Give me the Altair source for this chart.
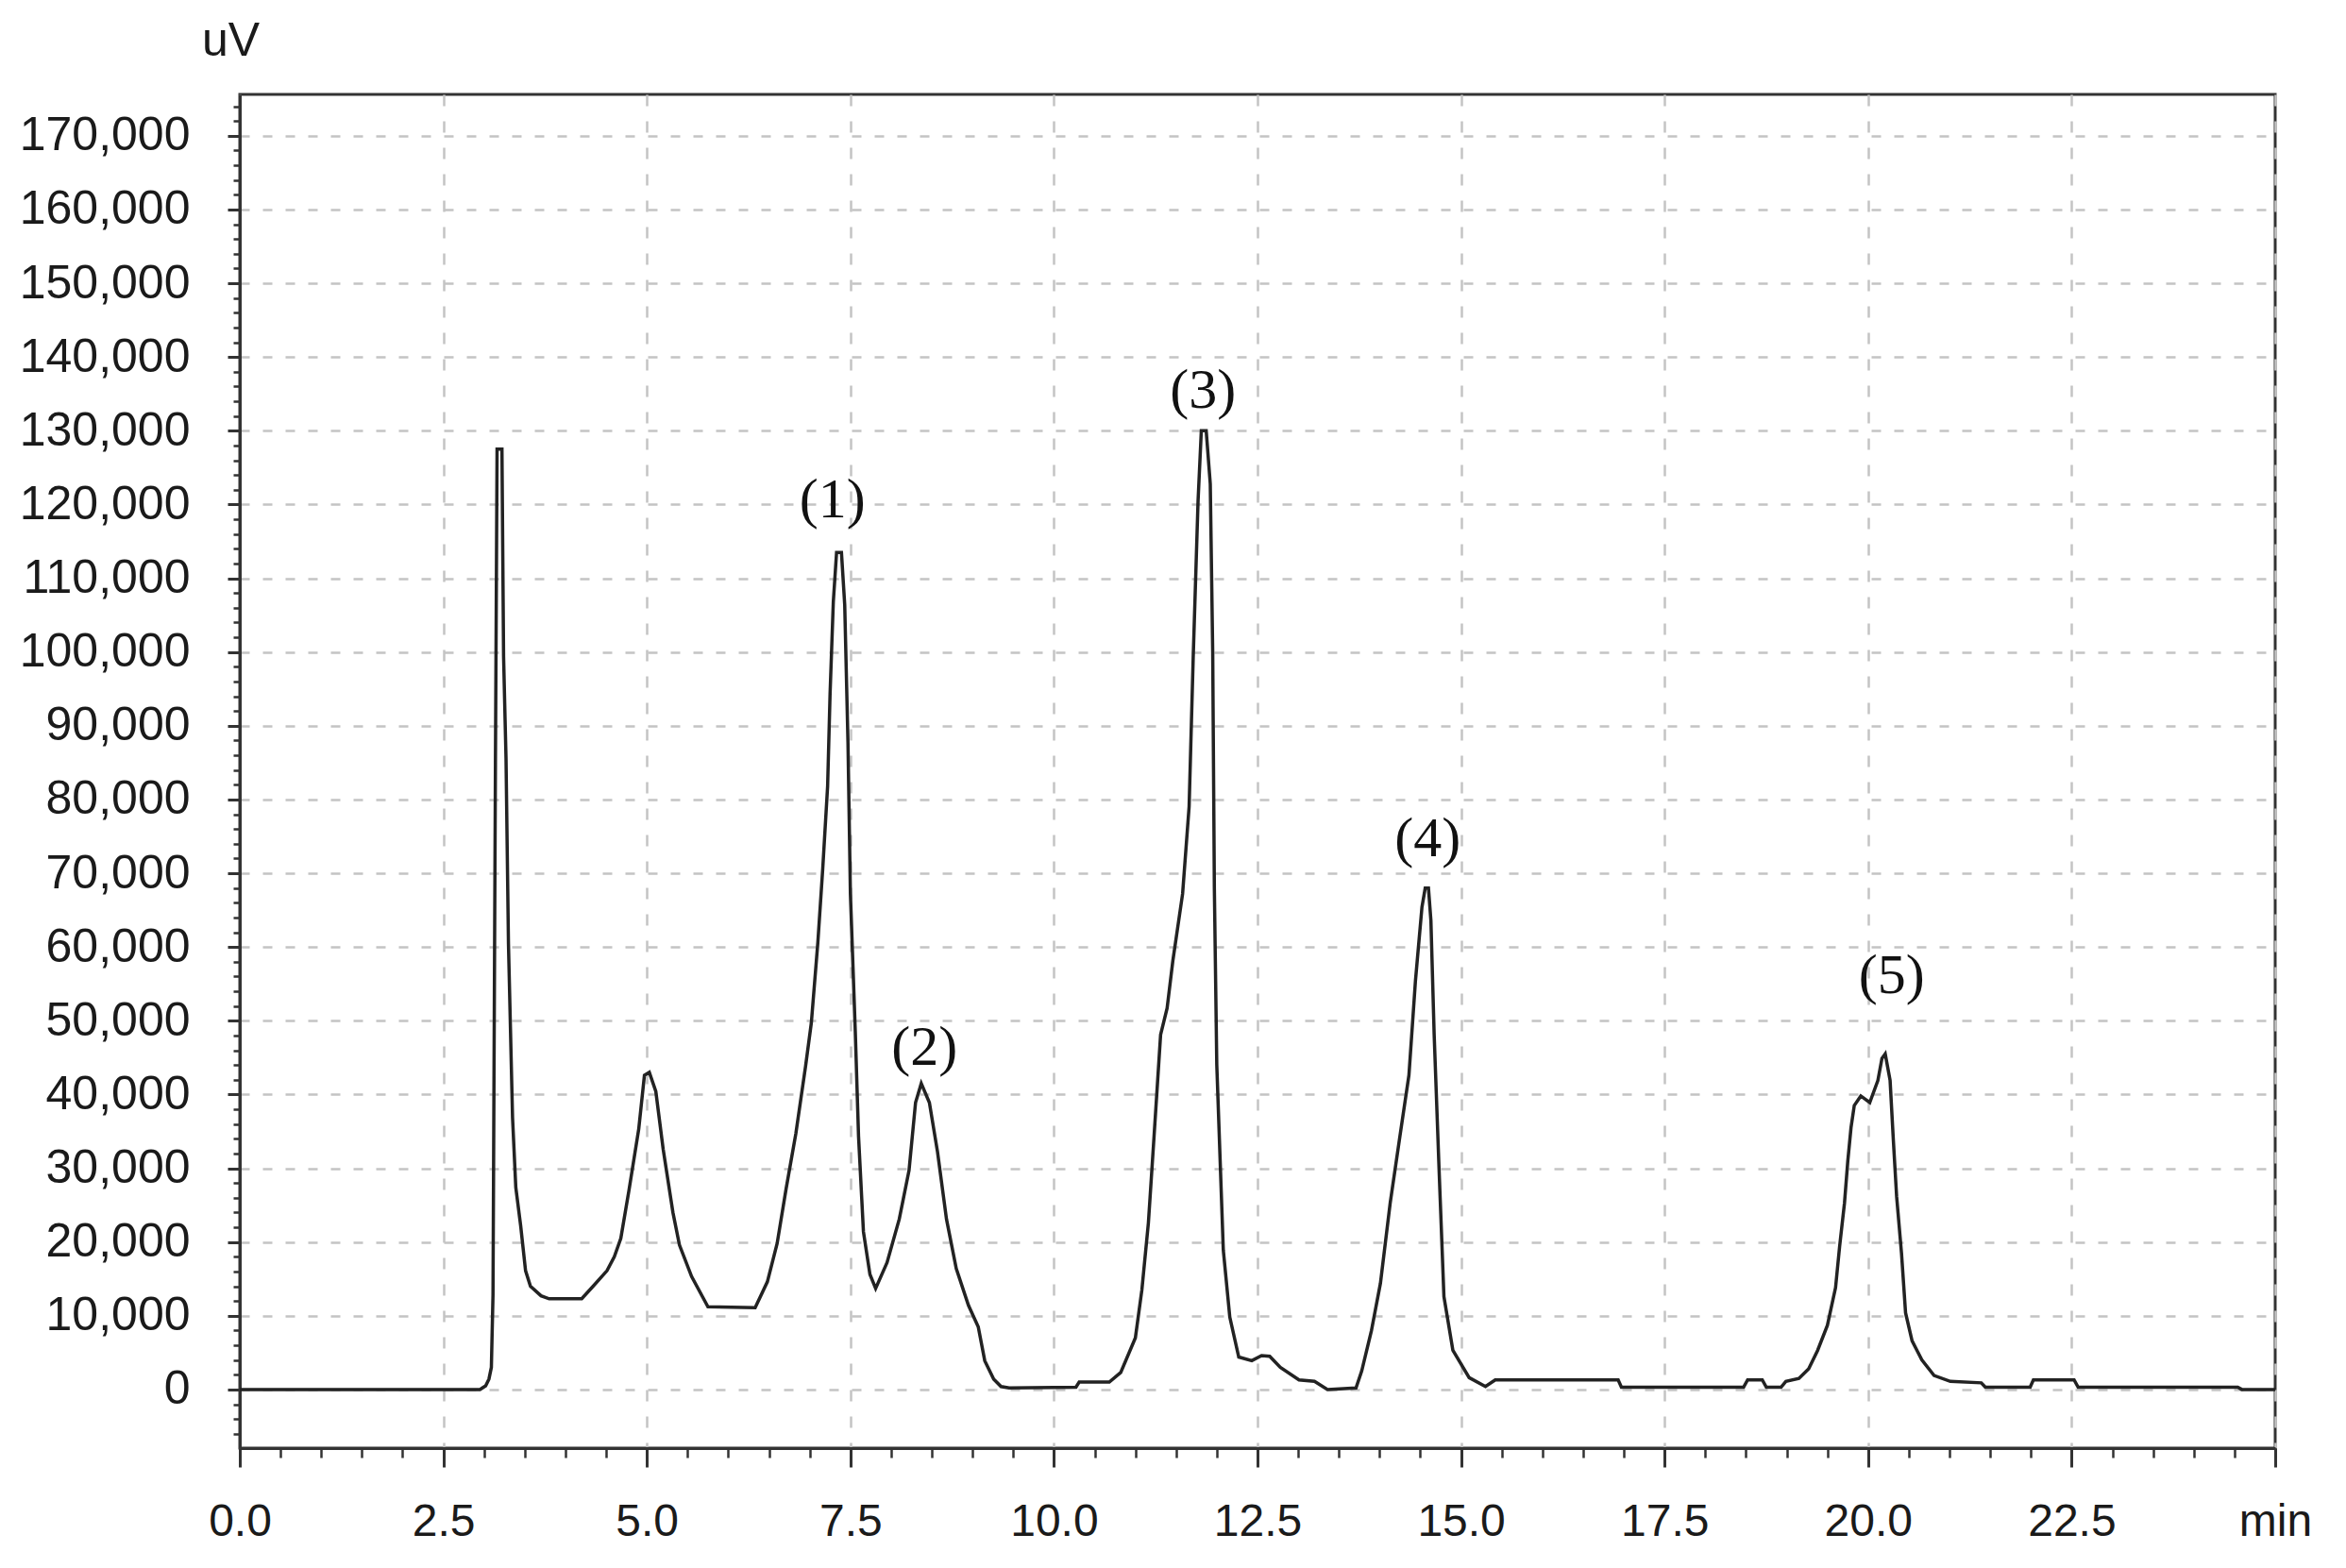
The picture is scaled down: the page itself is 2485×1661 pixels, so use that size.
import altair as alt
import pandas as pd

# ---- chromatogram trace ----
time_min = [
    0.0, 2.95, 3.02, 3.06, 3.09, 3.11, 3.14, 3.16, 3.22, 3.24, 3.27, 3.30, 3.35, 3.39,
    3.45, 3.51, 3.57, 3.70, 3.80, 4.20, 4.34, 4.51, 4.60, 4.68, 4.78, 4.90, 4.97, 5.03,
    5.11, 5.20, 5.32, 5.40, 5.55, 5.75, 6.33, 6.48, 6.60, 6.71, 6.83, 6.95, 7.02, 7.10,
    7.16, 7.22, 7.25, 7.29, 7.33, 7.39, 7.43, 7.47, 7.50, 7.56, 7.60, 7.66, 7.74, 7.81,
    7.95, 8.10, 8.22, 8.30, 8.37, 8.47, 8.57, 8.68, 8.80, 8.95, 9.07, 9.15, 9.26, 9.35,
    9.45, 10.27, 10.31, 10.68, 10.82, 11.00, 11.08, 11.16, 11.23, 11.31, 11.39, 11.46,
    11.58, 11.66, 11.71, 11.77, 11.81, 11.87, 11.92, 11.95, 11.97, 12.00, 12.08, 12.16,
    12.27, 12.43, 12.55, 12.65, 12.78, 13.01, 13.20, 13.36, 13.71, 13.78, 13.90, 14.01,
    14.13, 14.25, 14.36, 14.44, 14.52, 14.56, 14.60, 14.63, 14.67, 14.73, 14.79, 14.90,
    15.10, 15.30, 15.42, 16.93, 16.97, 18.47, 18.52, 18.70, 18.75, 18.93, 18.99, 19.15,
    19.27, 19.38, 19.50, 19.60, 19.65, 19.71, 19.75, 19.79, 19.83, 19.91, 20.02, 20.12,
    20.17, 20.21, 20.27, 20.31, 20.35, 20.41, 20.46, 20.54, 20.66, 20.81, 21.01, 21.39,
    21.44, 21.99, 22.03, 22.53, 22.58, 24.54, 24.59, 25.0,
]
signal_uv = [
    0, 0, 500, 1400, 3000, 12800, 85000, 127500, 127500, 99400, 85500, 60400, 36900, 27400,
    22200, 16100, 14000, 12700, 12300, 12300, 14000, 16100, 18000, 20500, 27000, 35300, 42600, 43000,
    40400, 32600, 24000, 19600, 15300, 11200, 11100, 14600, 19800, 27200, 34700, 43900, 49700, 60600,
    70600, 81800, 94300, 106800, 113500, 113500, 106400, 87700, 67200, 48500, 34300, 21400, 15600, 13700,
    17200, 23100, 29700, 38900, 41500, 38900, 32200, 23100, 16400, 11400, 8500, 3900, 1400, 400,
    200, 300, 1000, 1000, 2300, 7000, 13500, 22600, 34400, 48100, 51700, 58100,
    67200, 79000, 99100, 120500, 130000, 130000, 122800, 100000, 68100, 44000, 18900, 9800,
    4400, 3900, 4600, 4500, 3000, 1300, 1100, 0, 200, 2500, 8000, 14400,
    25300, 34400, 42600, 55400, 65400, 68000, 68000, 63600, 48100, 29900, 12600, 5300,
    1600, 400, 1300, 1300, 300, 300, 1300, 1300, 300, 300, 1100, 1500,
    2800, 5300, 8700, 13800, 19400, 25300, 30900, 35500, 38500, 39800, 38900, 41900,
    44900, 45500, 41900, 33800, 26200, 18500, 10400, 6600, 4000, 1900, 1100, 900,
    300, 300, 1300, 1300, 300, 300, 0, 0,
]

# ---- peak annotations ----
peak_labels = ["(1)", "(2)", "(3)", "(4)", "(5)"]
peak_label_t = [7.28, 8.41, 11.83, 14.59, 20.29]
peak_label_v = [120500, 46300, 135400, 74600, 56000]

# ---- axis ticks ----
x_major = [0, 2.5, 5, 7.5, 10, 12.5, 15, 17.5, 20, 22.5, 25]
x_minor = [i * 0.5 for i in range(51)]
y_major = list(range(0, 170001, 10000))
y_minor = list(range(-6000, 176000, 2000))

trace = pd.DataFrame({"t": time_min, "v": signal_uv})
labels = pd.DataFrame({"t": peak_label_t, "v": peak_label_v, "lab": peak_labels})

xscale = alt.Scale(domain=[0, 25], nice=False, zero=False)
yscale = alt.Scale(domain=[-7950, 175600], nice=False, zero=False)

FRAME = "#333333"
GRID = "#c4c4c4"
SANS = "Liberation Sans"

line = alt.Chart(trace).mark_line(color="#222222", strokeWidth=3.5, clip=True).encode(
    x=alt.X("t:Q", scale=xscale, axis=alt.Axis(
        orient="bottom", values=x_major, title=None,
        labelExpr="datum.value == 25 ? 'min' : format(datum.value, '.1f')",
        labelFont=SANS, labelFontSize=48, labelColor="#1a1a1a", labelPadding=34,
        labelFlush=False, labelOverlap=False, labelLimit=0,
        tickSize=20, tickWidth=3, tickColor=FRAME,
        domainColor=FRAME, domainWidth=3,
        grid=True, gridColor=GRID, gridWidth=2.5, gridDash=[12, 16])),
    y=alt.Y("v:Q", scale=yscale, axis=alt.Axis(
        orient="left", values=y_major, format=",d",
        title="uV", titleAngle=0, titleX=-10, titleY=-57, titleAlign="center",
        titleBaseline="middle", titleFont=SANS, titleFontSize=50,
        titleFontWeight="normal", titleColor="#1a1a1a", titleLimit=0,
        labelFont=SANS, labelFontSize=50, labelColor="#1a1a1a", labelPadding=40,
        labelOverlap=False, labelLimit=0,
        tickSize=13, tickWidth=3, tickColor=FRAME,
        domainColor=FRAME, domainWidth=3,
        grid=True, gridColor=GRID, gridWidth=2.5, gridDash=[10, 14])),
)

minor = alt.Chart(trace).mark_line(opacity=0).encode(
    x=alt.X("t:Q", scale=xscale, axis=alt.Axis(
        orient="bottom", values=x_minor, labels=False, grid=False, domain=False,
        title=None, tickSize=10, tickWidth=2.5, tickColor=FRAME)),
    y=alt.Y("v:Q", scale=yscale, axis=alt.Axis(
        orient="left", values=y_minor, labels=False, grid=False, domain=False,
        title=None, tickSize=7, tickWidth=2.5, tickColor=FRAME)),
)

text = alt.Chart(labels).mark_text(
    font="Liberation Serif", fontSize=60, color="#111111",
    align="center", baseline="middle").encode(
    x=alt.X("t:Q", scale=xscale, axis=None),
    y=alt.Y("v:Q", scale=yscale, axis=None),
    text="lab:N",
)

chart = alt.layer(line, minor, text).resolve_axis(
    x="independent", y="independent"
).properties(
    width=2156, height=1434,
    autosize=alt.AutoSizeParams(type="none"),
    padding={"left": 246, "top": 92, "right": 60, "bottom": 110},
    background="white",
).configure_view(stroke=FRAME, strokeWidth=3)

chart.save("out.html", embed_options={"renderer": "svg", "actions": False})
